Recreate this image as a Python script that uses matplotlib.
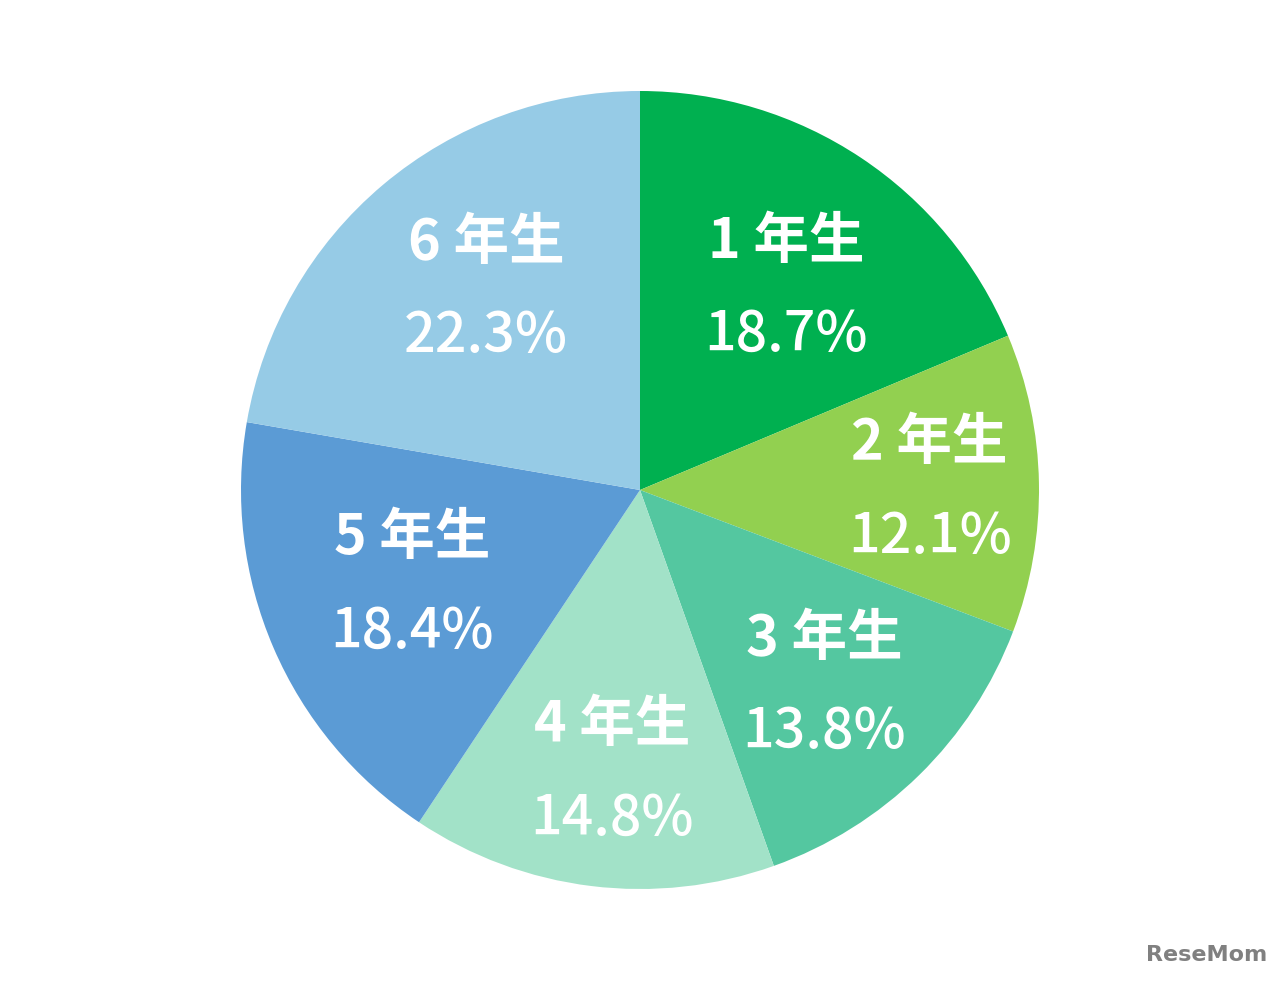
import matplotlib
matplotlib.use('Agg')
import matplotlib.pyplot as plt

plt.rcParams['font.family'] = ['Noto Sans CJK JP', 'DejaVu Sans']

grades = ['1 年生', '2 年生', '3 年生', '4 年生', '5 年生', '6 年生']
shares = [18.7, 12.1, 13.8, 14.8, 18.4, 22.3]
colors = ['#00B050', '#92D050', '#54C7A0', '#A2E2C8', '#5B9BD5', '#96CBE6']
# label centres in pie units (radius 1)
label_x = [0.367, 0.726, 0.461, -0.070, -0.571, -0.386]
label_y = [0.505, 0.000, -0.490, -0.707, -0.238, 0.503]

fig = plt.figure(figsize=(12.8, 9.81), dpi=100)
ax = fig.add_axes([241 / 1280, 92 / 981, 798 / 1280, 798 / 981])
ax.pie(shares, colors=colors, startangle=90, counterclock=False, radius=1,
       wedgeprops={'linewidth': 0})
ax.set_xlim(-1, 1)
ax.set_ylim(-1, 1)
ax.set_aspect('equal')
ax.axis('off')

for name, val, x, y in zip(grades, shares, label_x, label_y):
    ax.text(x, y + 0.117, name, ha='center', va='center', color='white',
            fontsize=40, fontweight='bold')
    ax.text(x, y - 0.117, f'{val:.1f}%', ha='center', va='center', color='white',
            fontsize=40, fontweight='medium')

fig.text(0.99, 0.027, 'ReseMom', ha='right', va='center', color='#808080',
         fontsize=16, fontweight='bold', family=['DejaVu Sans'])

fig.savefig('out.png', dpi=100)
plt.close(fig)
